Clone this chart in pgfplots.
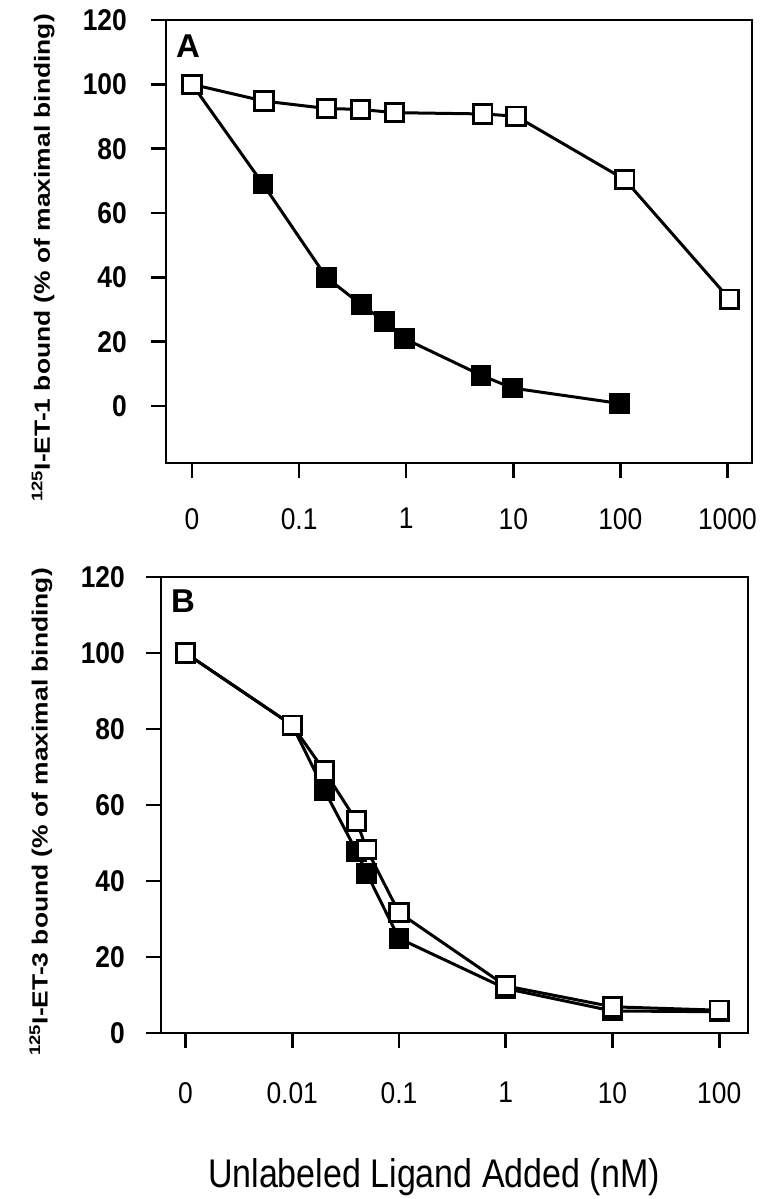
\documentclass[border=0pt]{standalone}
\usepackage{fontspec}
\setmainfont{Liberation Sans}
\newfontfamily\tickfont{Liberation Sans}[FakeStretch=0.88]
\newfontfamily\tickfontb{Liberation Sans Bold}[FakeStretch=0.88]
\newfontfamily\labfont{Liberation Sans Bold}[FakeStretch=1.2]
\newfontfamily\xlabfont{Liberation Sans}[FakeStretch=0.85]
\newfontfamily\panfont{Liberation Sans Bold}
\usepackage{pgfplots}
\pgfplotsset{compat=1.18}
\pgfplotsset{
  mycommon/.style={
    scale only axis,
    xminorticks=false,
    axis line style={line width=2.8pt},
    tick align=outside,
    tick pos=left,
    major tick length=15pt,
    major tick style={line width=2.6pt, black},
    xticklabel style={font=\fontsize{30}{30}\selectfont\tickfont, inner sep=0pt, anchor=north},
    yticklabel style={font=\fontsize{30}{30}\selectfont\tickfontb, inner sep=0pt, anchor=east},
    ytick={0,20,40,60,80,100,120},
    yticklabels={0,20,40,60,80,100,120},
    ymax=120,
    clip=false,
  },
  sqfill/.style={black, line width=3pt, mark=square*, mark size=9.2pt,
    mark options={solid, fill=black, draw=black, line width=2.4pt}},
  sqopen/.style={black, line width=3pt, mark=square*, mark size=9.2pt,
    mark options={solid, fill=white, draw=black, line width=2.8pt}},
}
\begin{document}
\begin{tikzpicture}[x=1pt,y=1pt]
\useasboundingbox (0,0) rectangle (767,-1199);
% Panel A
\begin{axis}[xmode=log, mycommon,
  at={(166pt,-20pt)}, anchor=north west,
  width=586pt, height=443pt,
  xmin=0.00571, xmax=1698, ymin=-17.7,
  xtick={0.01,0.1,1,10,100,1000},
  xticklabels={0,0.1,1,10,100,1000},
  xticklabel style={yshift=-30pt},
  yticklabel style={xshift=-24pt},
  ylabel={\textsuperscript{125}I-ET-1 bound (\% of maximal binding)},
  ylabel style={at={(rel axis cs:-0.198,0.463)}, anchor=base, font=\fontsize{22}{22}\selectfont\labfont},
]
\addplot[sqfill] coordinates {(0.01,100) (0.046,69) (0.18,40) (0.38,31.5) (0.63,26.3) (0.96,21) (5.0,9.6) (9.8,5.6) (99,0.8)};
\addplot[sqopen] coordinates {(0.01,100) (0.047,94.8) (0.18,92.5) (0.375,92.2) (0.78,91.2) (5.2,90.8) (10.6,90.1) (110,70.4) (1050,33.2)};
\node[font=\fontsize{33}{33}\selectfont\panfont, anchor=center] at (rel axis cs:0.0375,0.941) {A};
\end{axis}
% Panel B
\begin{axis}[xmode=log, mycommon,
  at={(161pt,-577pt)}, anchor=north west,
  width=587pt, height=456pt,
  xmin=0.00059, xmax=186, ymin=0,
  xtick={0.001,0.01,0.1,1,10,100},
  xticklabels={0,0.01,0.1,1,10,100},
  xticklabel style={yshift=-34pt},
  yticklabel style={xshift=-21pt},
  ylabel={\textsuperscript{125}I-ET-3 bound (\% of maximal binding)},
  ylabel style={at={(rel axis cs:-0.193,0.485)}, anchor=base, font=\fontsize{22}{22}\selectfont\labfont},
  xlabel={Unlabeled Ligand Added (nM)},
  xlabel style={at={(rel axis cs:0.465,-0.338)}, anchor=base, font=\fontsize{40}{40}\selectfont\xlabfont},
]
\addplot[sqfill] coordinates {(0.001,100) (0.01,81) (0.02,63.9) (0.04,47.8) (0.05,42) (0.1,24.9) (1,11.7) (10,5.8) (100,5.6)};
\addplot[sqopen] coordinates {(0.001,100) (0.01,81) (0.02,69) (0.04,55.8) (0.05,48.3) (0.1,31.7) (1,12.4) (10,6.9) (100,6.0)};
\node[font=\fontsize{33}{33}\selectfont\panfont, anchor=center] at (rel axis cs:0.0375,0.947) {B};
\end{axis}
\end{tikzpicture}
\end{document}
